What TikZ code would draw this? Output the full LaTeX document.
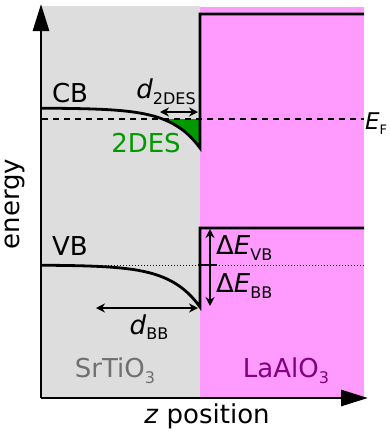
\documentclass[tikz,border=0pt]{standalone}
\usepackage{fontspec}
\setmainfont{DejaVu Sans}
\usetikzlibrary{arrows.meta}

\definecolor{stogray}{HTML}{DDDDDD}
\definecolor{laopink}{HTML}{FF9BFF}
\definecolor{laopurple}{HTML}{800080}
\definecolor{stotext}{HTML}{707070}
\definecolor{desgreen}{HTML}{009900}

% lowered small subscript in text font
\newcommand{\bsub}[1]{\raisebox{-0.4ex}{\fontsize{16}{16}\selectfont #1}}

\begin{document}
\begin{tikzpicture}[x=1pt,y=-1pt,
  band/.style={line width=2.8pt},
  dimarrow/.style={line width=1.5pt,{Stealth[length=9pt,width=9pt]}-{Stealth[length=9pt,width=9pt]}},
  onearrow/.style={line width=1.5pt,-{Stealth[length=9pt,width=9pt]}},
  axisline/.style={line width=2.8pt,-{Triangle[length=27pt,width=16pt]}},
  big/.style={font=\fontsize{26}{26}\selectfont, inner sep=0pt}]
\useasboundingbox (0,0) rectangle (390,432);
% regions
\fill[stogray] (42,6) rectangle (200,398);
\fill[laopink] (200,7) rectangle (364,398);
% 2DES
\fill[desgreen] plot[domain=162.6:200,samples=30] (\x,{108+40*exp((\x-200)/29)}) -- (200,119) -- cycle;
% Fermi level and VB reference
\draw[line width=1.4pt,dash pattern=on 6pt off 5pt] (42,119) -- (364,119);
\draw[line width=1pt,dotted] (42,265) -- (364,265);
% bands
\draw[band] plot[domain=42:200,samples=60] (\x,{108+40*exp((\x-200)/29)}) -- (200,14) -- (364,14);
\draw[band] plot[domain=42:200,samples=60] (\x,{265+42*exp((\x-200)/30)}) -- (200,228) -- (364,228);
% offsets
\coordinate (vbtop) at (210,229);
\coordinate (vbmid) at (210,265);
\coordinate (vbbot) at (210,306);
\draw[line width=2pt] (198,265) -- (217,265);
\draw[onearrow] (vbmid) -- (vbtop);
\draw[onearrow] (vbmid) -- (vbbot);
\coordinate (desl) at (160,112);
\coordinate (desr) at (198,112);
\draw[dimarrow] (desl) -- (desr);
\coordinate (bbl) at (96,308);
\coordinate (bbr) at (198,308);
\draw[dimarrow] (bbl) -- (bbr);
% axes
\coordinate (origin) at (41,398);
\draw[axisline] (origin) -- (41,4);
\draw[axisline] (origin) -- (368,398);
% labels
\node[big] (cblabel) at (70,93) {CB};
\node[big] (vblabel) at (70,246) {VB};
\node[big,text=desgreen] (deslabel) at (146,143) {2DES};
\node[big] (ddes) at (166,92) {\textit{d}\bsub{2DES}};
\node[big] (dbb) at (149,327) {\textit{d}\bsub{BB}};
\node[big,anchor=west] (dvb) at (216,248) {Δ\textit{E}\bsub{VB}};
\node[big,anchor=west] (dbbe) at (216,286) {Δ\textit{E}\bsub{BB}};
\node[big,anchor=west,font=\fontsize{23}{23}\selectfont] (ef) at (365,124) {\textit{E}\raisebox{-0.4ex}{\fontsize{13}{13}\selectfont F}};
\node[big,text=stotext] (sto) at (115,371) {SrTiO\bsub{3}};
\node[big,text=laopurple] (lao) at (286,371) {LaAlO\bsub{3}};
\node[big] (zpos) at (207,416) {\textit{z} position};
\node[big,rotate=90] (energy) at (15,204) {energy};
\end{tikzpicture}
\end{document}
